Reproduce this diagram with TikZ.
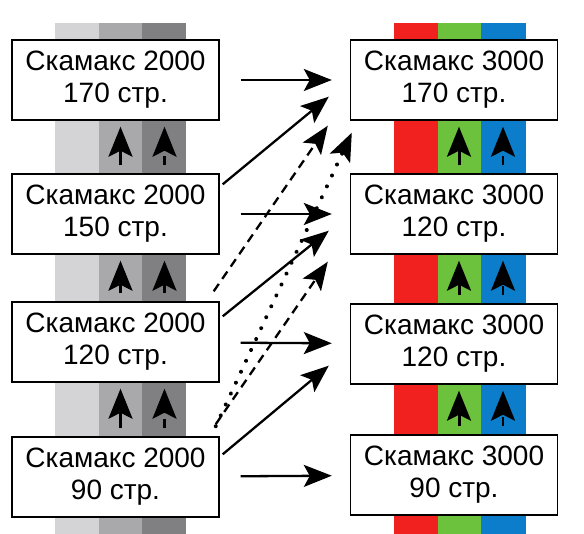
\documentclass[tikz,border=0pt]{standalone}
\usepackage{fontspec}
\setmainfont{Liberation Sans}
\usetikzlibrary{arrows.meta, calc}
\definecolor{grigioA}{HTML}{D4D4D6}
\definecolor{grigioB}{HTML}{A9A9AB}
\definecolor{grigioC}{HTML}{808083}
\definecolor{rosso}{HTML}{F0211F}
\definecolor{verde}{HTML}{6CC13D}
\definecolor{blu}{HTML}{0B7DCA}

\begin{document}
\begin{tikzpicture}[x=0.5pt, y=-0.5pt,
        modello/.style={draw, line width=0.7pt, fill=white, minimum width=103.5pt, minimum height=40pt, align=center, inner sep=0pt, font=\fontsize{14}{16}\selectfont},
        freccia/.style={line width=1.15pt, arrows={-Stealth[length=14pt, width=11pt, inset=3pt]}},
        salita/.style={line width=1.5pt, arrows={-Stealth[length=15pt, width=12pt, inset=3pt]}},
        tratteggio/.style={dash pattern=on 4.5pt off 3pt},
        puntini/.style={dash pattern=on 0.01pt off 6pt, line cap=round, line width=2pt}]
        \useasboundingbox (0,0) rectangle (584,534);
        % Parametri
        \pgfmathsetmacro{\xl}{115.5}
        \pgfmathsetmacro{\xr}{454}
        % Strisce colorate
        \fill[grigioA] (55,23) rectangle (99,534);
        \fill[grigioB] (99,23) rectangle (142,534);
        \fill[grigioC] (142,23) rectangle (186,534);
        \fill[rosso] (394,23) rectangle (438,534);
        \fill[verde] (438,23) rectangle (481,534);
        \fill[blu] (481,23) rectangle (526,534);
        % Modelli
        \node[modello] (l170) at (\xl,80) {Скамакс 2000\\170 стр.};
        \node[modello] (l150) at (\xl,214) {Скамакс 2000\\150 стр.};
        \node[modello] (l120) at (\xl,342) {Скамакс 2000\\120 стр.};
        \node[modello] (l90) at (\xl,477) {Скамакс 2000\\90 стр.};
        \node[modello] (r170) at (\xr,80) {Скамакс 3000\\170 стр.};
        \node[modello] (r120a) at (\xr,214) {Скамакс 3000\\120 стр.};
        \node[modello] (r120b) at (\xr,344) {Скамакс 3000\\120 стр.};
        \node[modello] (r90) at (\xr,475) {Скамакс 3000\\90 стр.};
        % Frecce verticali
        \foreach \a/\b in {l150/l170, l120/l150, l90/l120, r120a/r170, r120b/r120a, r90/r120b}{
            \draw[salita] ($(\a.north)+(5,-8)$) -- ($(\b.south)+(5,6)$);
            \draw[salita, line width=1.2pt, tratteggio] ($(\a.north)+(49,-8)$) -- ($(\b.south)+(49,6)$);
        }
        % Frecce orizzontali
        \foreach \a/\b in {l170/r170, l150/r120a, l120/r120b, l90/r90}
            \draw[freccia, shorten <=10.5pt, shorten >=9pt] (\a) -- (\b);
        % Frecce oblique
        \draw[freccia] ($(l150.north east)+(3,11)$) -- ($(r170.south west)+(-21,-24)$);
        \draw[freccia] ($(l120.north east)+(3,15)$) -- ($(r120a.south west)+(-21,-24)$);
        \draw[freccia] ($(l90.north east)+(3,18)$) -- ($(r120b.south west)+(-21,-19)$);
        \draw[freccia, tratteggio] ($(l120.north east)+(-6,-10)$) -- ($(r170.south west)+(-22,5)$);
        \draw[freccia, tratteggio] ($(l90.north east)+(-4,-12)$) -- ($(r120a.south west)+(-22,7)$);
        \draw[freccia, puntini] ($(l90.north east)+(-4,-10)$) -- ($(r170.south west)+(2,12)$);
    \end{tikzpicture}
\end{document}
